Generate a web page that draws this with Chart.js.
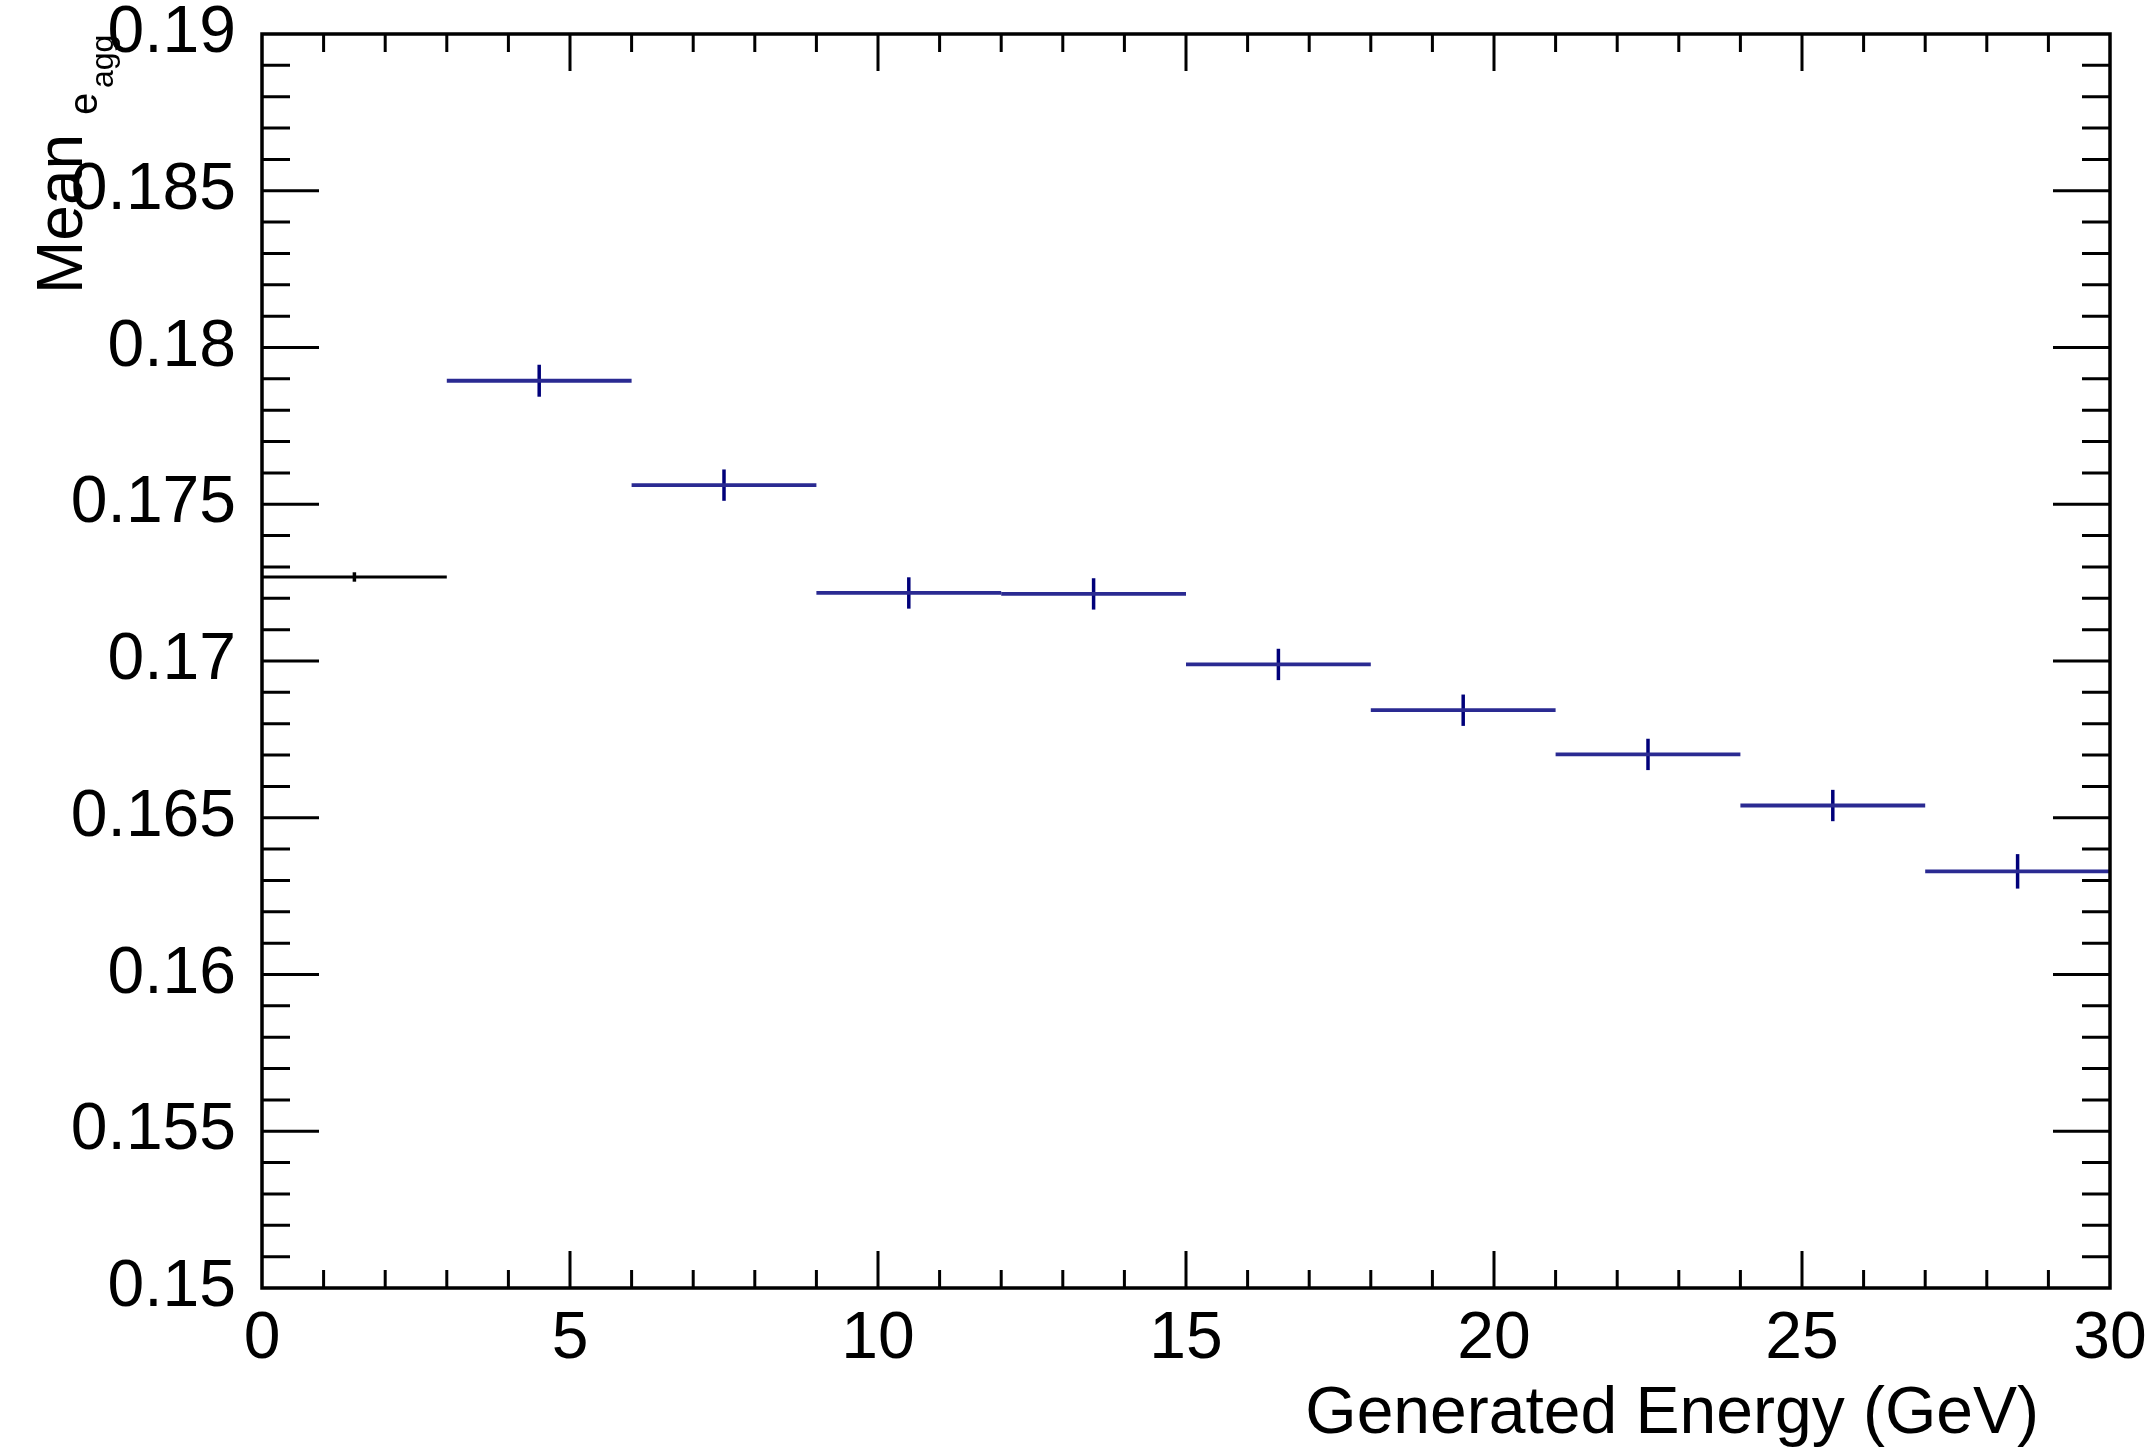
<!DOCTYPE html>
<html>
<head>
<meta charset="utf-8">
<script src="https://cdn.jsdelivr.net/npm/chart.js@4/dist/chart.umd.min.js"></script>
<style>
  html, body { margin: 0; padding: 0; background: #ffffff; }
  canvas { display: block; }
</style>
</head>
<body>
<canvas id="c" width="2156" height="1449"></canvas>
<script>
// ---- Data ----
const binEdges = [0, 3, 6, 9, 12, 15, 18, 21, 24, 27, 30];
const means    = [0.17268, 0.17894, 0.17561, 0.17217, 0.17214, 0.16989, 0.16843, 0.16702, 0.16539, 0.16329];
const errors   = [0.00015, 0.00051, 0.00050, 0.00050, 0.00050, 0.00050, 0.00050, 0.00050, 0.00050, 0.00055];
const binColors = ['#000000', '#2a2a92', '#2a2a92', '#2a2a92', '#2a2a92', '#2a2a92', '#2a2a92', '#2a2a92', '#2a2a92', '#2a2a92'];

const xTickLabels = ['0', '5', '10', '15', '20', '25', '30'];
const yTickLabels = ['0.15', '0.155', '0.16', '0.165', '0.17', '0.175', '0.18', '0.185', '0.19'];

const xTitle = 'Generated Energy (GeV)';
const yTitleMain = 'Mean';
const yTitleSub = 'e';
const yTitleSubSub = 'agg';

// ---- Build datasets from the arrays ----
const datasets = [];
for (let i = 0; i < means.length; i++) {
  const lo = binEdges[i], hi = binEdges[i + 1], c = (lo + hi) / 2;
  datasets.push({
    data: [{x: lo, y: means[i]}, {x: hi, y: means[i]}],
    borderColor: binColors[i], borderWidth: i === 0 ? 3.2 : 3.8, pointRadius: 0, tension: 0, fill: false
  });
  datasets.push({
    data: [{x: c, y: means[i] - errors[i]}, {x: c, y: means[i] + errors[i]}],
    borderColor: i === 0 ? '#000000' : '#00007a', borderWidth: 3.5, pointRadius: 0, tension: 0, fill: false
  });
}

const FONT = '"Liberation Sans", Arial, Helvetica, sans-serif';
const FS = 66;

// Inside ticks on all four sides + frame + titles (ROOT style)
const rootFrame = {
  id: 'rootFrame',
  afterDraw(chart) {
    const ctx = chart.ctx;
    const a = chart.chartArea;
    const xs = chart.scales.x, ys = chart.scales.y;
    ctx.save();
    ctx.strokeStyle = '#000';
    ctx.lineWidth = 3;
    ctx.lineCap = 'butt';
    // x ticks
    const xMajor = xTickLabels.map(Number);
    const xStep = xMajor[1] - xMajor[0];
    for (let m = 0; m < xMajor.length; m++) {
      for (let k = 0; k < 5; k++) {
        const v = xMajor[m] + k * xStep / 5;
        if (v > xMajor[xMajor.length - 1] + 1e-9) continue;
        if (k === 0 && (m === 0 || m === xMajor.length - 1)) continue;
        const px = xs.getPixelForValue(v);
        const len = k === 0 ? 37 : 18;
        ctx.beginPath();
        ctx.moveTo(px, a.bottom); ctx.lineTo(px, a.bottom - len);
        ctx.moveTo(px, a.top); ctx.lineTo(px, a.top + len);
        ctx.stroke();
      }
    }
    // y ticks
    const yMajor = yTickLabels.map(Number);
    const yStep = yMajor[1] - yMajor[0];
    for (let m = 0; m < yMajor.length; m++) {
      for (let k = 0; k < 5; k++) {
        const v = yMajor[m] + k * yStep / 5;
        if (v > yMajor[yMajor.length - 1] + 1e-9) continue;
        if (k === 0 && (m === 0 || m === yMajor.length - 1)) continue;
        const py = ys.getPixelForValue(v);
        const len = k === 0 ? 57 : 28;
        ctx.beginPath();
        ctx.moveTo(a.left, py); ctx.lineTo(a.left + len, py);
        ctx.moveTo(a.right, py); ctx.lineTo(a.right - len, py);
        ctx.stroke();
      }
    }
    // frame
    ctx.lineWidth = 3.5;
    ctx.strokeRect(a.left, a.top, a.right - a.left, a.bottom - a.top);

    // x title
    ctx.fillStyle = '#000';
    ctx.font = FS + 'px ' + FONT;
    ctx.textAlign = 'right';
    ctx.textBaseline = 'alphabetic';
    ctx.fillText(xTitle, 2039, 1433);

    // y title (rotated, with subscripts)
    ctx.translate(82, 294);
    ctx.rotate(-Math.PI / 2);
    ctx.textAlign = 'left';
    ctx.font = '64px ' + FONT;
    ctx.fillText(yTitleMain, 0, 0);
    ctx.font = '40px ' + FONT;
    ctx.fillText(yTitleSub, 179, 15);
    ctx.font = '32px ' + FONT;
    ctx.fillText(yTitleSubSub, 206, 31);
    ctx.restore();
  }
};

new Chart(document.getElementById('c'), {
  type: 'line',
  data: { datasets },
  plugins: [rootFrame],
  options: {
    responsive: false,
    animation: false,
    devicePixelRatio: 1,
    spanGaps: false,
    layout: { padding: { top: 34, right: 46, left: 0, bottom: 0 } },
    plugins: { legend: { display: false }, tooltip: { enabled: false }, title: { display: false } },
    scales: {
      x: {
        type: 'linear', min: 0, max: 30,
        grid: { display: false, drawTicks: false },
        border: { display: false },
        ticks: {
          stepSize: 5, autoSkip: false, maxRotation: 0, color: '#000', padding: 12,
          font: { family: FONT, size: FS },
          callback: (v, i) => xTickLabels[i]
        },
        afterFit(s) { s.height = 161; s.paddingLeft = 0; s.paddingRight = 0; s.paddingTop = 0; s.paddingBottom = 0; }
      },
      y: {
        type: 'linear', min: 0.15, max: 0.19,
        grid: { display: false, drawTicks: false },
        border: { display: false },
        ticks: {
          stepSize: 0.005, autoSkip: false, color: '#000', padding: 26,
          font: { family: FONT, size: FS },
          callback: (v, i) => yTickLabels[i]
        },
        afterFit(s) { s.width = 262; s.paddingLeft = 0; s.paddingRight = 0; s.paddingTop = 0; s.paddingBottom = 0; }
      }
    }
  }
});
</script>
</body>
</html>
